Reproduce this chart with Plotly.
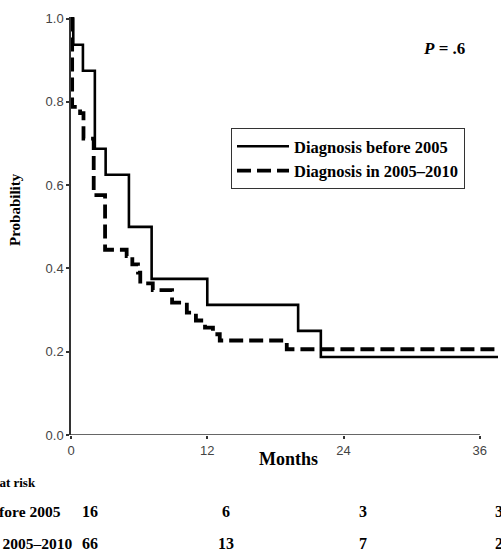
import plotly.graph_objects as go

# Kaplan-Meier step data
months_before = [0, 0.2, 1.05, 2.1, 3.05, 5.1, 7.1, 12.0, 20.0, 22.0, 37.6]
surv_before = [1.0, 0.9375, 0.875, 0.6875, 0.625, 0.5, 0.375, 0.3125, 0.25, 0.1875, 0.1875]

months_2005 = [0, 0.1, 0.8, 1.1, 2.0, 3.0, 4.9, 5.4, 5.9, 6.1, 7.2, 8.9,
               10.2, 11.0, 11.8, 12.5, 13.1, 19.0, 37.6]
surv_2005 = [1.0, 0.788, 0.773, 0.712, 0.576, 0.445, 0.43, 0.41, 0.39, 0.364, 0.348, 0.318,
             0.294, 0.275, 0.258, 0.242, 0.227, 0.206, 0.206]

name_before = "Diagnosis before 2005"
name_2005 = "Diagnosis in 2005–2010"

x_ticks = [0, 12, 24, 36]
y_ticks = [0.0, 0.2, 0.4, 0.6, 0.8, 1.0]
y_tick_labels = ["0.0", "0.2", "0.4", "0.6", "0.8", "1.0"]

risk_title = "No. at risk"
risk_before = [16, 6, 3, 3]
risk_2005 = [66, 13, 7, 2]

SERIF = "Liberation Serif"
SANS = "Liberation Sans"

W, H = 501, 551
L, R, T, B = 71, 3, 17, 116
pw, ph = W - L - R, H - T - B


def px(xp):
    return (xp - L) / pw


def py(yp):
    return 1 - (yp - T) / ph


fig = go.Figure()
fig.add_trace(go.Scatter(x=months_before, y=surv_before, mode="lines", line_shape="hv",
                         name=name_before, line=dict(color="black", width=2.6)))
fig.add_trace(go.Scatter(x=months_2005, y=surv_2005, mode="lines", line_shape="hv",
                         name=name_2005, line=dict(color="black", width=3.8, dash="14px,6px")))

# x axis line only from 0 to 36
fig.add_shape(type="line", xref="x", yref="y", x0=0, x1=36, y0=0, y1=0,
              line=dict(color="#333", width=1.5))

ann_font = dict(family=SERIF, color="black")
annotations = [
    dict(x=px(444), y=py(49), xref="paper", yref="paper", text="<b><i>P</i> = .6</b>",
         showarrow=False, xanchor="center", yanchor="middle", font=dict(size=17, **ann_font)),
    dict(x=px(288), y=py(459), xref="paper", yref="paper", text="<b>Months</b>",
         showarrow=False, xanchor="center", yanchor="middle", font=dict(size=18, **ann_font)),
    dict(x=px(15), y=py(210), xref="paper", yref="paper", text="<b>Probability</b>", textangle=-90,
         showarrow=False, xanchor="center", yanchor="middle", font=dict(size=15, **ann_font)),
    dict(x=px(38), y=py(482), xref="paper", yref="paper", text="<b>" + risk_title + "</b>",
         showarrow=False, xanchor="right", yanchor="middle", font=dict(size=13, **ann_font)),
    dict(x=px(63), y=py(512), xref="paper", yref="paper", text="<b>" + name_before + "</b>",
         showarrow=False, xanchor="right", yanchor="middle", font=dict(size=15.5, **ann_font)),
    dict(x=px(74), y=py(543), xref="paper", yref="paper", text="<b>" + name_2005 + "</b>",
         showarrow=False, xanchor="right", yanchor="middle", font=dict(size=15.5, **ann_font)),
]

for xv, n1, n2 in zip(x_ticks, risk_before, risk_2005):
    annotations.append(dict(x=xv, y=py(512), xref="x", yref="paper", xshift=19, text=f"<b>{n1}</b>",
                            showarrow=False, xanchor="center", yanchor="middle",
                            font=dict(size=16, **ann_font)))
    annotations.append(dict(x=xv, y=py(543), xref="x", yref="paper", xshift=19, text=f"<b>{n2}</b>",
                            showarrow=False, xanchor="center", yanchor="middle",
                            font=dict(size=16, **ann_font)))

fig.update_layout(
    width=W, height=H,
    margin=dict(l=L, r=R, t=T, b=B, pad=0),
    paper_bgcolor="white", plot_bgcolor="white",
    showlegend=True,
    legend=dict(x=px(231), y=py(128), xanchor="left", yanchor="top",
                bgcolor="white", bordercolor="#333", borderwidth=1,
                font=dict(family=SERIF, size=16.5, color="black", weight="bold"),
                tracegroupgap=2, itemwidth=52),
    annotations=annotations,
    xaxis=dict(range=[0, 37.6], tickvals=x_ticks, ticktext=[str(v) for v in x_ticks],
               showgrid=False, zeroline=False, showline=False,
               ticks="outside", ticklen=3, tickwidth=2, tickcolor="#333",
               tickfont=dict(family=SANS, size=13, color="#444")),
    yaxis=dict(range=[0, 1.004], tickvals=y_ticks, ticktext=y_tick_labels,
               showgrid=False, zeroline=False, showline=True, linecolor="#333", linewidth=1.5,
               ticks="outside", ticklen=3, tickwidth=2, tickcolor="#333",
               tickfont=dict(family=SANS, size=13, color="#444")),
)

fig.write_html("out.html", config={"displayModeBar": False},
               post_script="document.body.style.margin='0';document.body.style.overflow='hidden';")
